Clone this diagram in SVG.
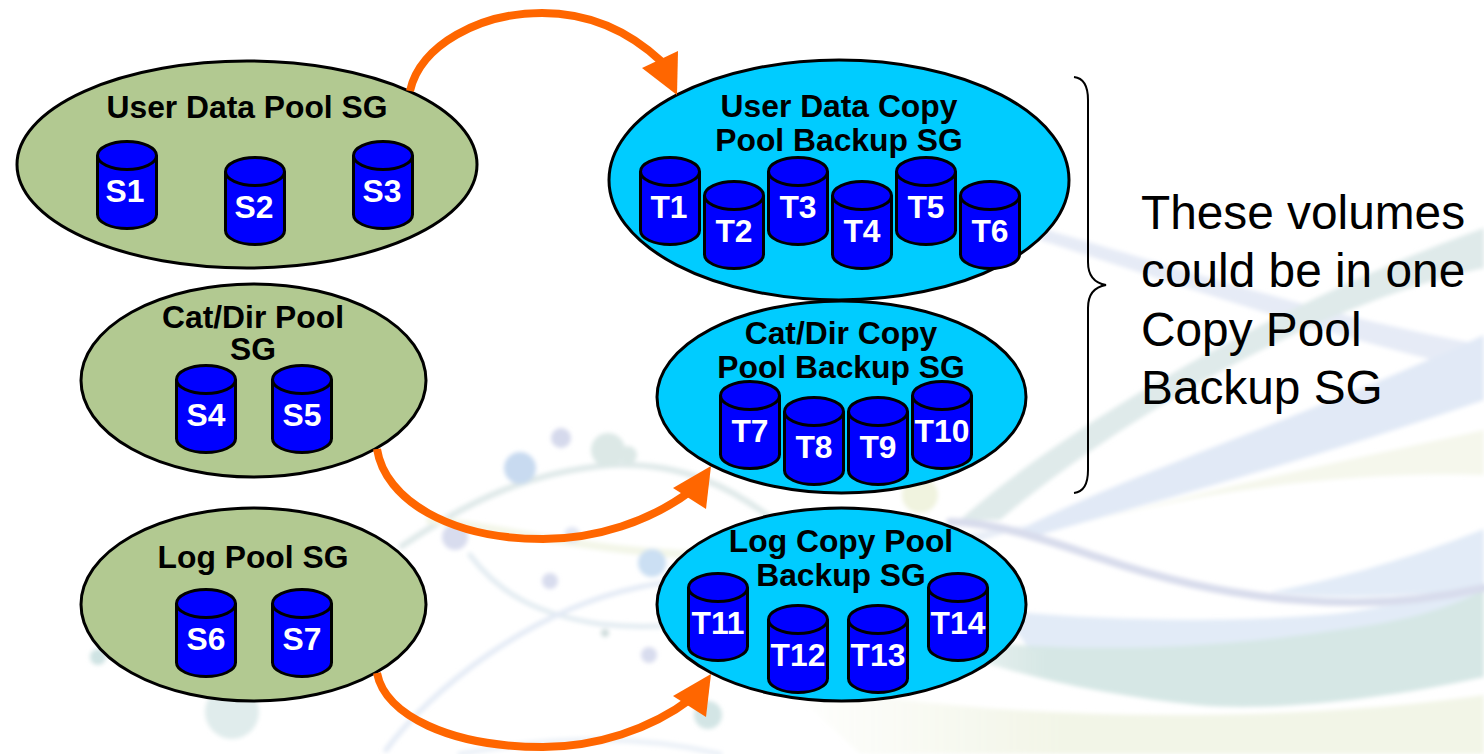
<svg xmlns="http://www.w3.org/2000/svg" width="1484" height="754" viewBox="0 0 1484 754">
<style>
text{font-family:"Liberation Sans",Arial,sans-serif}
.l{font-weight:bold;font-size:31.8px;fill:#000;text-anchor:middle}
.v{font-weight:bold;font-size:31.8px;fill:#fff;text-anchor:middle}
.n{font-size:47.8px;fill:#000}
.pg{fill:#B2C991;stroke:#000;stroke-width:3}
.pb{fill:#00CCFF;stroke:#000;stroke-width:3}
.b{fill:#0000FF;stroke:#000;stroke-width:3}
.c{fill:none;stroke:#FF6600;stroke-width:8}
.h{fill:#FF6600}
.w{fill:none;stroke-linecap:round}
</style>
<defs>
<filter id="soft" x="-5%" y="-5%" width="110%" height="110%"><feGaussianBlur stdDeviation="2"/></filter>
<linearGradient id="gy" x1="0" x2="1" y1="0" y2="0"><stop offset="0" stop-color="#f2f5e7" stop-opacity="0"/><stop offset=".4" stop-color="#f2f5e7"/></linearGradient>
<linearGradient id="gt" x1="0" x2="1" y1="0" y2="0"><stop offset="0" stop-color="#d6e7e5" stop-opacity=".2"/><stop offset=".25" stop-color="#d6e7e5"/></linearGradient>
<g id="cyl"><path class="b" d="M.5 14.500V73.500C.5 81.500 14 87.500 30 87.500S59.500 81.500 59.500 73.500V14.500"/><ellipse class="b" cx="30" cy="14.500" rx="29.500" ry="14"/></g>
</defs>
<rect width="1484" height="754" fill="#fff"/>
<g id="background" filter="url(#soft)">
<path d="M1040 240C1150 275 1320 335 1484 372V345C1330 318 1160 262 1040 228Z" fill="#e6ebf6"/>
<path d="M960 520C1060 430 1280 300 1484 228V268C1330 300 1130 410 1000 520Z" fill="#dfeaea"/>
<path d="M1010 535C1110 480 1300 420 1484 335V400C1310 460 1160 500 1040 535Z" fill="#e1e9f6"/>
<path d="M1060 530C1200 490 1350 460 1484 430V475C1340 470 1180 495 1060 530Z" fill="#f5f7ec"/>
<path d="M1270 592C1360 575 1430 550 1484 529V590C1400 595 1340 600 1270 592Z" fill="#e2ebf7"/>
<path d="M1000 610C1130 625 1290 620 1350 612L1484 590V650L1030 650Z" fill="#e2ebf7"/>
<path d="M900 628C1050 662 1240 645 1330 631C1400 622 1440 612 1484 590V677C1380 700 1270 712 1197 705C1100 695 980 670 900 628Z" fill="url(#gt)"/>
<path d="M780 680C1000 726 1300 722 1484 695V754H860Z" fill="url(#gy)"/>
<path d="M780 580C880 545 960 535 1030 525C960 550 880 565 830 590Z" fill="#e8eef7"/>
<path class="w" d="M950 522C1000 522 1060 545 1100 558C1170 582 1240 596 1300 600C1370 606 1430 600 1484 588" stroke="#d8dcec" stroke-width="8"/>
<path class="w" d="M402 546C470 500 530 472 610 465C680 462 730 485 780 525C820 555 860 570 930 580" stroke="#dfe9e9" stroke-width="6"/>
<path class="w" d="M470 555C500 595 540 615 600 624C650 630 700 625 760 610" stroke="#e2ebf1" stroke-width="5"/>
<path class="w" d="M386 750C430 690 530 610 640 587C700 575 780 565 860 545" stroke="#e3eaf5" stroke-width="5"/>
<path class="w" d="M430 520C520 530 620 560 760 555" stroke="#f3f6e8" stroke-width="8"/>
<path class="w" d="M460 754C560 735 640 735 720 754" stroke="#eaf0f7" stroke-width="5"/>
<circle cx="561" cy="438" r="10" fill="#d5d9ec"/>
<circle cx="520" cy="468" r="16" fill="#c8daf0"/>
<circle cx="608" cy="450" r="17" fill="#dce8e6"/>
<circle cx="628" cy="455" r="9" fill="#dce8e6"/>
<circle cx="455" cy="537" r="13" fill="#d8dcee"/>
<circle cx="572" cy="535" r="8" fill="#e0e5f3"/>
<circle cx="652" cy="563" r="14" fill="#cbdff3"/>
<circle cx="550" cy="581" r="8" fill="#d8dcee"/>
<circle cx="605" cy="633" r="4" fill="#cfdcdc"/>
<circle cx="649" cy="655" r="8" fill="#d8dcee"/>
<circle cx="708" cy="715" r="14" fill="#d3e5e5"/>
<circle cx="98" cy="657" r="8" fill="#cfe3e3"/>
<circle cx="232" cy="712" r="27" fill="#e0ecec"/>
<circle cx="920" cy="495" r="18" fill="#f0f3df"/>
</g>
<g id="node-user-pool"><ellipse class="pg" cx="247" cy="164.500" rx="230" ry="103.500"/><text class="l" x="247" y="118">User Data Pool SG</text>
<use href="#cyl" x="97" y="141"/><text class="v" x="125" y="202">S1</text>
<use href="#cyl" x="225" y="157"/><text class="v" x="254" y="218">S2</text>
<use href="#cyl" x="353" y="141"/><text class="v" x="382" y="202">S3</text></g>
<g id="node-cat-pool"><ellipse class="pg" cx="253.500" cy="380.500" rx="172.500" ry="96.500"/><text class="l" x="253" y="328">Cat/Dir Pool</text><text class="l" x="253" y="360">SG</text>
<use href="#cyl" x="176" y="365"/><text class="v" x="206" y="426">S4</text>
<use href="#cyl" x="272" y="365"/><text class="v" x="302" y="426">S5</text></g>
<g id="node-log-pool"><ellipse class="pg" cx="253.500" cy="604.500" rx="172.500" ry="96.500"/><text class="l" x="253" y="568">Log Pool SG</text>
<use href="#cyl" x="176" y="589"/><text class="v" x="206" y="650">S6</text>
<use href="#cyl" x="272" y="589"/><text class="v" x="302" y="650">S7</text></g>
<g id="node-user-copy"><ellipse class="pb" cx="839" cy="180" rx="230" ry="120"/><text class="l" x="839" y="117">User Data Copy</text><text class="l" x="839" y="151">Pool Backup SG</text>
<use href="#cyl" x="640" y="157"/><text class="v" x="669" y="218">T1</text>
<use href="#cyl" x="704" y="181"/><text class="v" x="734" y="242">T2</text>
<use href="#cyl" x="768" y="157"/><text class="v" x="798" y="218">T3</text>
<use href="#cyl" x="832" y="181"/><text class="v" x="862" y="242">T4</text>
<use href="#cyl" x="896" y="157"/><text class="v" x="926" y="218">T5</text>
<use href="#cyl" x="960" y="181"/><text class="v" x="990" y="242">T6</text></g>
<g id="node-cat-copy"><ellipse class="pb" cx="841.500" cy="397" rx="184.500" ry="96"/><text class="l" x="841" y="344">Cat/Dir Copy</text><text class="l" x="841" y="378">Pool Backup SG</text>
<use href="#cyl" x="720" y="381"/><text class="v" x="750" y="442">T7</text>
<use href="#cyl" x="784" y="397"/><text class="v" x="814" y="458">T8</text>
<use href="#cyl" x="848" y="397"/><text class="v" x="878" y="458">T9</text>
<use href="#cyl" x="912" y="381"/><text class="v" x="942" y="442">T10</text></g>
<g id="node-log-copy"><ellipse class="pb" cx="841.500" cy="604.500" rx="184.500" ry="96.500"/><text class="l" x="841" y="552">Log Copy Pool</text><text class="l" x="841" y="586">Backup SG</text>
<use href="#cyl" x="688" y="573"/><text class="v" x="718" y="634">T11</text>
<use href="#cyl" x="768" y="605"/><text class="v" x="798" y="666">T12</text>
<use href="#cyl" x="848" y="605"/><text class="v" x="878" y="666">T13</text>
<use href="#cyl" x="928" y="573"/><text class="v" x="958" y="634">T14</text></g>
<g id="connectors">
<path class="c" d="M410 91C420 45 480 13 542 13C590 13 630 32 662 62"/>
<polygon class="h" points="677,95 678,51 642,68"/>
<path class="c" d="M377 449C385 500 450 539 543 539C595 539 650 522 692 490"/>
<polygon class="h" points="711,466 706,509 673,488"/>
<path class="c" d="M377 673C385 715 450 747 543 747C595 747 650 730 692 698"/>
<polygon class="h" points="711,674 706,717 673,696"/>
</g>
<g id="note">
<path d="M1074 77C1083 78 1088 86 1088 100V262C1088 275 1094 283 1106 285C1094 287 1088 295 1088 308V470C1088 484 1083 492 1074 493" fill="none" stroke="#000" stroke-width="2"/>
<text class="n" x="1141" y="229">These volumes</text>
<text class="n" x="1141" y="287">could be in one</text>
<text class="n" x="1141" y="346">Copy Pool</text>
<text class="n" x="1141" y="404">Backup SG</text>
</g>
</svg>
